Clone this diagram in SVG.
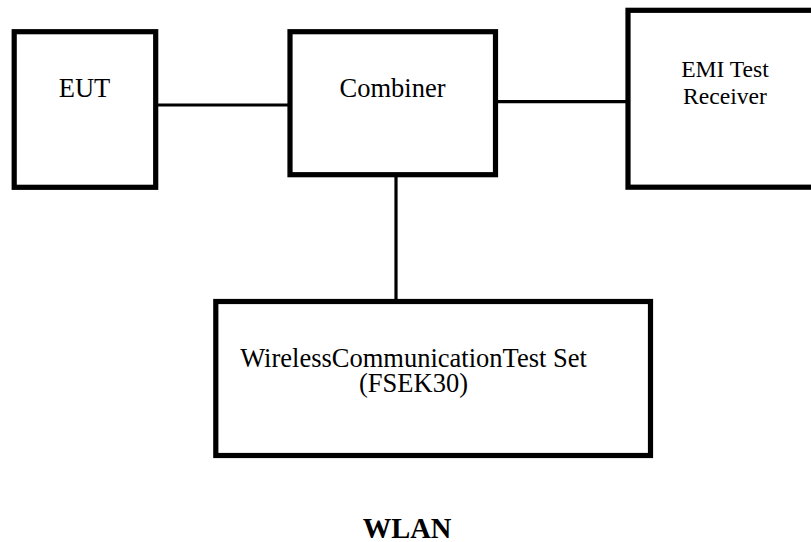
<svg xmlns="http://www.w3.org/2000/svg" width="811" height="542" viewBox="0 0 811 542">
<style>
.box{fill:#fff;stroke:#000;stroke-width:5.2}
.conn{stroke:#000;stroke-width:3.2;fill:none}
.t{font-family:"Liberation Serif","Times New Roman",serif;fill:#000;text-anchor:middle}
</style>
<rect width="811" height="542" fill="#fff"/>
<g id="connectors">
<line class="conn" x1="156" y1="105" x2="290" y2="105"/>
<line class="conn" x1="495" y1="101.6" x2="628" y2="101.6"/>
<line class="conn" x1="396" y1="175" x2="396" y2="302"/>
</g>
<g id="eut">
<rect class="box" x="14.2" y="31.7" width="141.5" height="155.6"/>
<text class="t" x="84.5" y="97" font-size="26.5">EUT</text>
</g>
<g id="combiner">
<rect class="box" x="290" y="31.7" width="205.5" height="143"/>
<text class="t" x="392.5" y="97" font-size="26.5">Combiner</text>
</g>
<g id="emi">
<rect class="box" x="628" y="10.3" width="200" height="176.9"/>
<text class="t" x="725" y="77.3" font-size="23.6">EMI Test</text>
<text class="t" x="725" y="104" font-size="23.6">Receiver</text>
</g>
<g id="wireless">
<rect class="box" x="215.8" y="301.5" width="434.7" height="154"/>
<text class="t" x="413.5" y="366.7" font-size="26.5">WirelessCommunicationTest Set</text>
<text class="t" x="413.5" y="392" font-size="26.5">(FSEK30)</text>
</g>
<text class="t" x="407" y="538.3" font-size="28.5" font-weight="bold">WLAN</text>
</svg>
